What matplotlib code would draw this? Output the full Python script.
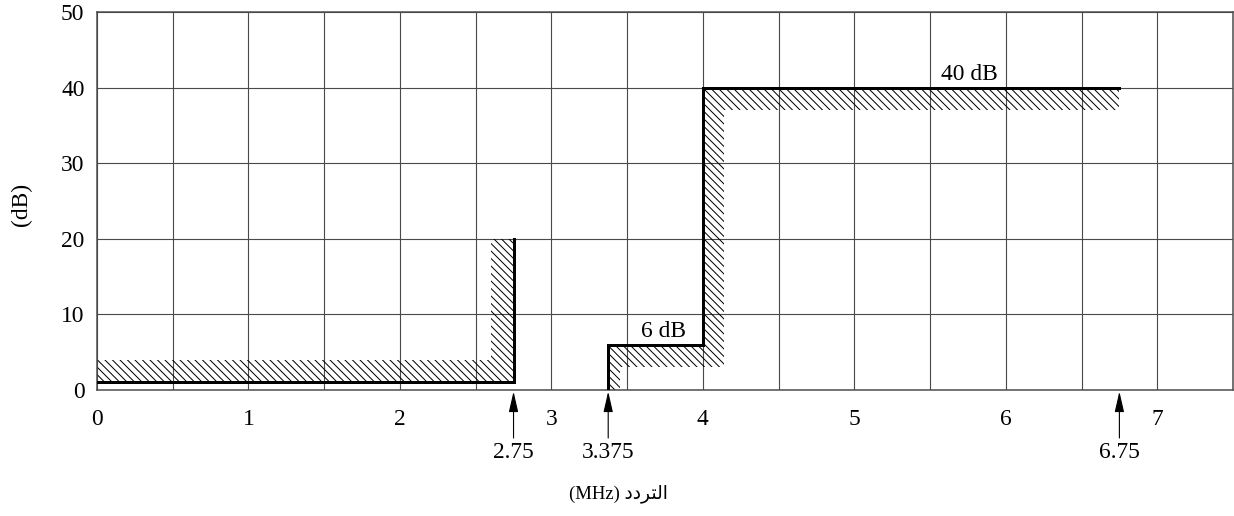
import matplotlib
matplotlib.use("Agg")
import matplotlib.pyplot as plt

# ---- data ----
x_ticks = [0, 1, 2, 3, 4, 5, 6, 7]
y_ticks = [0, 10, 20, 30, 40, 50]
x_grid = [0.5 * i for i in range(16)]

mask1_x = [0, 2.75, 2.75]
mask1_y = [1, 1, 20]
mask2_x = [3.375, 3.375, 4, 4, 6.75]
mask2_y = [0, 6, 6, 40, 40]

hatch1_x = [0, 2.75, 2.75, 2.6, 2.6, 0]
hatch1_y = [1, 1, 20, 20, 4, 4]
hatch2_x = [3.375, 3.375, 4, 4, 6.75, 6.75, 4.14, 4.14, 3.45, 3.45]
hatch2_y = [0, 6, 6, 40, 40, 37, 37, 3, 3, 0]

arrow_x = [2.75, 3.375, 6.75]
arrow_labels = ["2.75", "3.375", "6.75"]

annot_text = ["40 dB", "6 dB"]
annot_x = [5.76, 3.74]
annot_y = [40, 6]

xlabel = "(MHz) \ufea9\ufea9\ufeae\ufe98\ufedf\ufe8d"  # التردد (MHz)
ylabel = "(dB)"

DPI = 90
plt.rcParams['font.family'] = ['Liberation Serif', 'DejaVu Sans']
plt.rcParams['hatch.linewidth'] = 0.8
FS = 18.8

fig = plt.figure(figsize=(1234 / DPI, 516 / DPI), dpi=DPI)
ax = fig.add_axes([97 / 1234, 1 - 390 / 516, 1136 / 1234, 378 / 516])
ax.set_xlim(0, 7.5)
ax.set_ylim(0, 50)

gc = '#4a4a4a'
for xv in x_grid:
    ax.axvline(xv, color=gc, lw=0.9, zorder=1)
for yv in y_ticks:
    ax.axhline(yv, color=gc, lw=0.9, zorder=1)
for s in ax.spines.values():
    s.set_color(gc)
    s.set_linewidth(1.2)

ax.fill(hatch1_x, hatch1_y, facecolor='none', edgecolor='black', lw=0, hatch='\\\\\\\\', zorder=2)
ax.fill(hatch2_x, hatch2_y, facecolor='none', edgecolor='black', lw=0, hatch='\\\\\\\\', zorder=2)

ax.plot(mask1_x, mask1_y, color='black', lw=2.4, zorder=3, solid_joinstyle='miter')
ax.plot(mask2_x, mask2_y, color='black', lw=2.4, zorder=3, solid_joinstyle='miter')

ax.set_xticks(x_ticks)
ax.set_yticks(y_ticks)
ax.set_xticklabels([str(v) for v in x_ticks], fontsize=FS)
ax.set_yticklabels([str(v) for v in y_ticks], fontsize=FS)
ax.tick_params(axis='x', length=0, pad=15)
ax.tick_params(axis='y', length=0, pad=10)

for t, xv, yv in zip(annot_text, annot_x, annot_y):
    ax.text(xv, yv + 0.4, t, fontsize=FS, ha='center', va='bottom', zorder=4)

for xv, lab in zip(arrow_x, arrow_labels):
    ax.annotate('', xy=(xv, -0.004), xytext=(xv, -0.127),
                xycoords=('data', 'axes fraction'), textcoords=('data', 'axes fraction'),
                arrowprops=dict(arrowstyle='-|>,head_length=1.4,head_width=0.32',
                                color='black', lw=0.9, shrinkA=0, shrinkB=0),
                annotation_clip=False)
    ax.text(xv, -(453 - 390) / 378, lab, fontsize=FS, ha='center', va='center',
            transform=ax.get_xaxis_transform())

fig.text(618 / 1234, 1 - 494 / 516, xlabel, fontsize=14.9, ha='center', va='center')
fig.text(21 / 1234, 1 - 204 / 516, ylabel, fontsize=FS, ha='center', va='center', rotation=90)

fig.savefig('out.png', dpi=DPI)
